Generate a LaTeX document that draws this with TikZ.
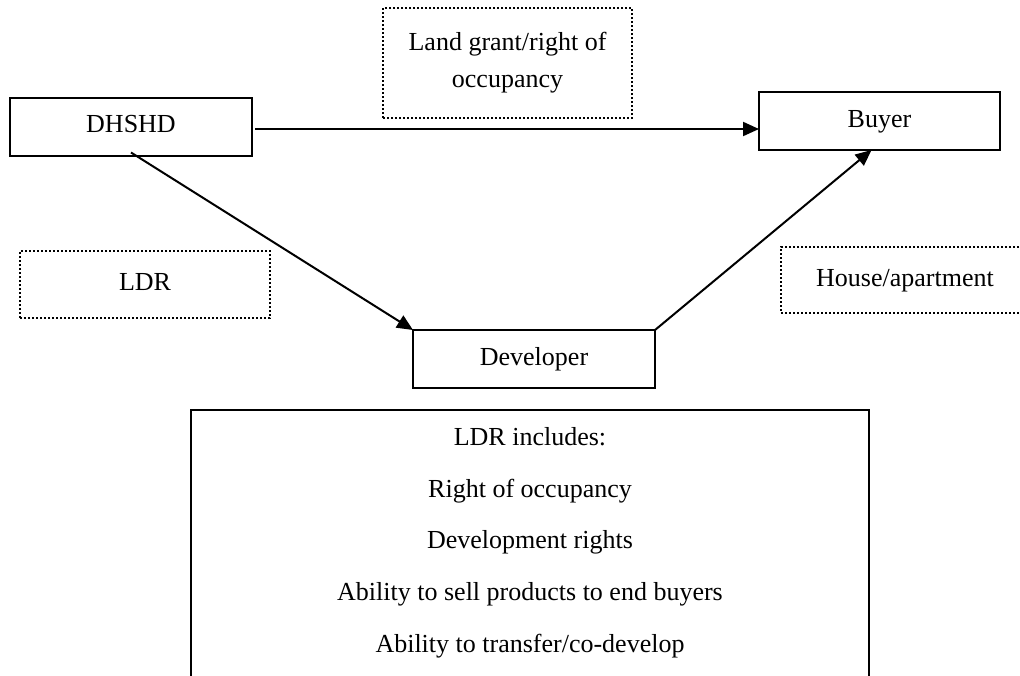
\documentclass[tikz,border=0pt]{standalone}
\usepackage{fontspec}
\setmainfont{Liberation Serif}
\usepackage{tikz}
\usetikzlibrary{arrows.meta}

\begin{document}
\begin{tikzpicture}[x=0.5pt,y=-0.5pt,line width=1pt,color=black,
	font=\fontsize{13}{18.5}\selectfont,
	solidbox/.style={draw,rectangle,inner sep=0pt,outer sep=0pt,minimum height=29pt,text height=9pt,text depth=3pt},
	dotbox/.style={draw,dash pattern=on 1pt off 1pt,rectangle,inner sep=0pt,outer sep=0pt},
	arr/.style={-{Triangle[length=8pt,width=7pt]}}]
			\useasboundingbox (0,0) rectangle (1020,675);
			\node[solidbox,minimum width=121pt] (dhshd) at (131,126.5) {DHSHD};
			\node[solidbox,minimum width=120.5pt] (buyer) at (879.5,121) {Buyer};
			\node[solidbox,minimum width=121pt] (dev) at (534,359) {Developer};
			\node[dotbox,align=center,minimum width=124.5pt,minimum height=55pt] (grant) at (507.5,63) {Land grant/right of\\occupancy};
			\node[dotbox,minimum width=125pt,minimum height=33.5pt,text height=9pt,text depth=3pt] (ldr) at (145,284.5) {LDR};
			\node[dotbox,minimum width=124pt,minimum height=33pt,text height=9pt,text depth=3pt] (house) at (905,280) {House/apartment};
			\node[draw,rectangle,inner sep=0pt,outer sep=0pt,minimum width=339pt,minimum height=150pt,anchor=north] (incl) at (530,410) {};
			\node[anchor=base] (incl1) at (530,445) {LDR includes:};
			\node[anchor=base] (incl2) at (530,497) {Right of occupancy};
			\node[anchor=base] (incl3) at (530,548) {Development rights};
			\node[anchor=base] (incl4) at (530,600) {Ability to sell products to end buyers};
			\node[anchor=base] (incl5) at (530,652) {Ability to transfer/co-develop};
			\draw[arr] ([shift={(1.5pt,-1.25pt)}]dhshd.east) -- ([yshift=-4pt]buyer.west);
			\draw[arr] ([yshift=1.5pt]dhshd.south) -- (dev.north west);
			\draw[arr] (dev.north east) -- ([xshift=-4pt]buyer.south);
		\end{tikzpicture}
\end{document}
